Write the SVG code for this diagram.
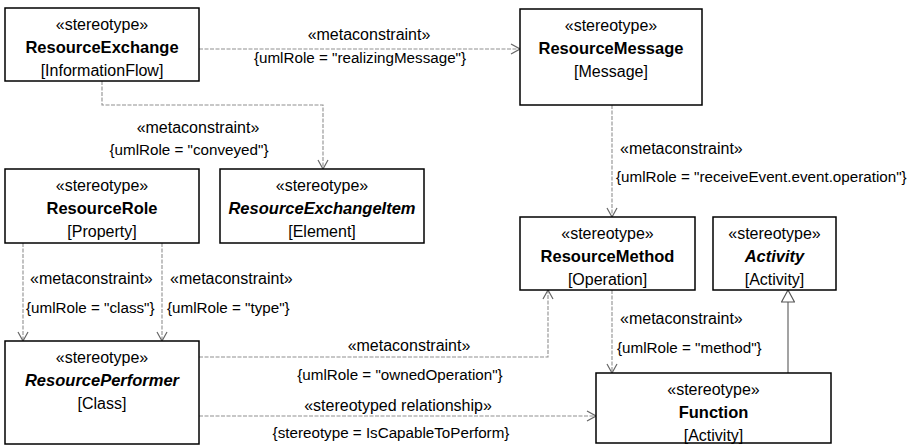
<svg xmlns="http://www.w3.org/2000/svg" width="908" height="446" viewBox="0 0 908 446">
<style>
.box{fill:#fff;stroke:#000;stroke-width:1.5}
text{font-family:"Liberation Sans",Arial,sans-serif;font-size:16px;fill:#000}
.c{text-anchor:middle}
.b{font-weight:bold;font-size:16.5px}
.bi{font-weight:bold;font-style:italic;font-size:16.5px}
.dep{fill:none;stroke:#909090;stroke-width:1.1;stroke-dasharray:4 1.5}
.gen{fill:none;stroke:#666;stroke-width:1.2}
.lbl{font-size:15.2px}
</style>
<defs>
<marker id="open" viewBox="0 0 12 12" refX="11" refY="6" markerWidth="12" markerHeight="12" markerUnits="userSpaceOnUse" orient="auto">
<path d="M2,1 L11,6 L2,11" fill="none" stroke="#666" stroke-width="1.2"/>
</marker>
<marker id="tri" viewBox="0 0 14 14" refX="13" refY="7" markerWidth="14" markerHeight="14" markerUnits="userSpaceOnUse" orient="auto">
<path d="M1,0.5 L13,7 L1,13.5 Z" fill="#fff" stroke="#555" stroke-width="1.2"/>
</marker>
</defs>
<g id="connectors">
<path class="dep" d="M199,49 H520" marker-end="url(#open)"/>
<path class="dep" d="M102,81 V105 H323 V169" marker-end="url(#open)"/>
<path class="dep" d="M612,105 V217" marker-end="url(#open)"/>
<path class="dep" d="M23,243 V341" marker-end="url(#open)"/>
<path class="dep" d="M162,243 V341" marker-end="url(#open)"/>
<path class="dep" d="M199,357 H548 V290" marker-end="url(#open)"/>
<path class="dep" d="M612,290 V373" marker-end="url(#open)"/>
<path class="dep" d="M199,416 H596" marker-end="url(#open)"/>
<path class="gen" d="M788,373 V290" marker-end="url(#tri)"/>
<text class="c" x="369" y="40">«metaconstraint»</text>
<text class="c lbl" x="360" y="63">{umlRole = "realizingMessage"}</text>
<text class="c" x="198" y="133">«metaconstraint»</text>
<text class="c lbl" x="189" y="155">{umlRole = "conveyed"}</text>
<text x="620" y="154">«metaconstraint»</text>
<text class="lbl" x="616" y="182">{umlRole = "receiveEvent.event.operation"}</text>
<text x="30" y="284">«metaconstraint»</text>
<text class="lbl" x="26" y="313">{umlRole = "class"}</text>
<text x="170" y="284">«metaconstraint»</text>
<text class="lbl" x="167" y="313">{umlRole = "type"}</text>
<text x="620" y="324">«metaconstraint»</text>
<text class="lbl" x="617" y="353">{umlRole = "method"}</text>
<text class="c" x="409" y="351">«metaconstraint»</text>
<text class="c lbl" x="400" y="380">{umlRole = "ownedOperation"}</text>
<text class="c" x="398" y="411">«stereotyped relationship»</text>
<text class="c lbl" x="391" y="438">{stereotype = IsCapableToPerform}</text>
</g>
<g id="ResourceExchange">
<rect class="box" x="5" y="8" width="194" height="73"/>
<text class="c" x="102" y="30">«stereotype»</text>
<text class="c b" x="102" y="53">ResourceExchange</text>
<text class="c" x="102" y="76">[InformationFlow]</text>
</g>
<g id="ResourceMessage">
<rect class="box" x="520" y="9" width="182" height="96"/>
<text class="c" x="611" y="31">«stereotype»</text>
<text class="c b" x="611" y="54">ResourceMessage</text>
<text class="c" x="611" y="77">[Message]</text>
</g>
<g id="ResourceRole">
<rect class="box" x="5" y="169" width="194" height="74"/>
<text class="c" x="102" y="191">«stereotype»</text>
<text class="c b" x="102" y="214">ResourceRole</text>
<text class="c" x="102" y="237">[Property]</text>
</g>
<g id="ResourceExchangeItem">
<rect class="box" x="220" y="169" width="204" height="74"/>
<text class="c" x="322" y="191">«stereotype»</text>
<text class="c bi" x="322" y="214">ResourceExchangeItem</text>
<text class="c" x="322" y="237">[Element]</text>
</g>
<g id="ResourceMethod">
<rect class="box" x="520" y="217" width="175" height="73"/>
<text class="c" x="607.5" y="239">«stereotype»</text>
<text class="c b" x="607.5" y="262">ResourceMethod</text>
<text class="c" x="607.5" y="285">[Operation]</text>
</g>
<g id="Activity">
<rect class="box" x="713" y="217" width="123" height="73"/>
<text class="c" x="774.5" y="239">«stereotype»</text>
<text class="c bi" x="774.5" y="262">Activity</text>
<text class="c" x="774.5" y="285">[Activity]</text>
</g>
<g id="ResourcePerformer">
<rect class="box" x="5" y="341" width="194" height="103"/>
<text class="c" x="102" y="363">«stereotype»</text>
<text class="c bi" x="102" y="386">ResourcePerformer</text>
<text class="c" x="102" y="409">[Class]</text>
</g>
<g id="Function">
<rect class="box" x="596" y="373" width="235" height="70"/>
<text class="c" x="713.5" y="395">«stereotype»</text>
<text class="c b" x="713.5" y="418">Function</text>
<text class="c" x="713.5" y="441">[Activity]</text>
</g>
</svg>
